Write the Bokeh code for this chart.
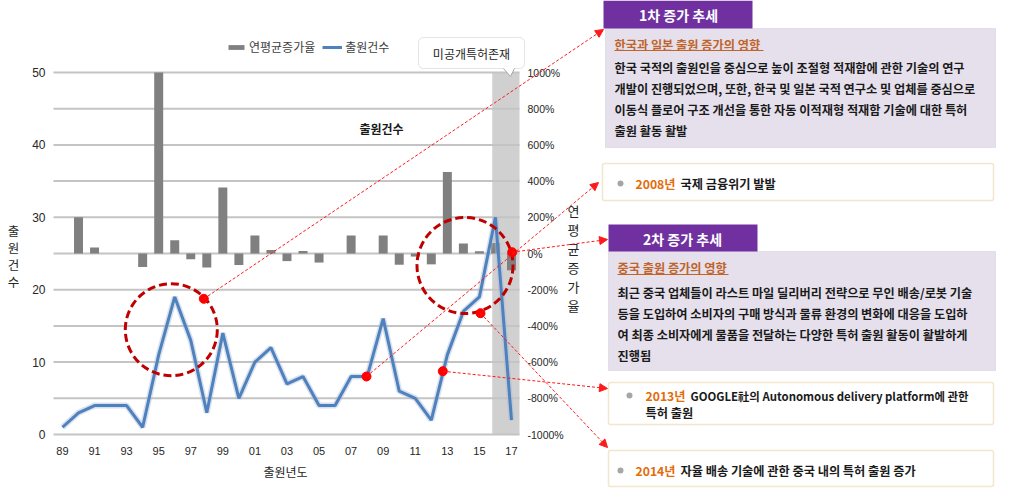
import numpy as np
from bokeh.plotting import figure
from bokeh.models import (Range1d, LinearAxis, FixedTicker, BoxAnnotation, Label,
                          Arrow, NormalHead, Legend, LegendItem, PolyAnnotation, ColumnDataSource)
from bokeh.embed import file_html
from bokeh.resources import INLINE

# ---------------- data ----------------
years = list(range(1989, 2018))
counts = [1, 3, 4, 4, 4, 1, 11, 19, 13, 3, 14, 5, 10, 12, 7, 8, 4, 4, 8, 8, 16, 6, 5, 2, 11, 17, 19, 30, 2]
growth = [np.nan, 200, 33, 0, 0, -75, 1000, 73, -32, -77, 365, -64, 100, 20, -42, 14, -50, 0, 100, 0,
          100, -62, -17, -60, 450, 55, 12, 58, -93]
x_ticks = [1989, 1991, 1993, 1995, 1997, 1999, 2001, 2003, 2005, 2007, 2009, 2011, 2013, 2015, 2017]
x_tick_labels = ["89", "91", "93", "95", "97", "99", "01", "03", "05", "07", "09", "11", "13", "15", "17"]
left_ticks = [0, 10, 20, 30, 40, 50]
grid_ticks = [0, 5, 10, 15, 20, 25, 30, 35, 40, 45, 50]
right_ticks = [-1000, -800, -600, -400, -200, 0, 200, 400, 600, 800, 1000]
unpublished_from = 2015.8

# ---------------- layout constants (canvas pixels) ----------------
W, H = 1016, 488
L, R, T, B = 53, 519, 72, 434          # chart area inside the canvas
X0, X1 = 1988.44, 2017.5               # years at chart left / right edge
KR = "Noto Sans CJK KR"
NUM = "Liberation Sans"
BODY = "12.2px"


def fx(px):
    return px


def fy(py):
    return H - py


def dx(px):
    return X0 + (px - L) / (R - L) * (X1 - X0)


def dy(py):
    return (B - py) / (B - T) * 50


def dpct(py):
    return (dy(py) - 25) * 40


p = figure(width=W, height=H, x_range=Range1d(dx(0), dx(W)), y_range=Range1d(dy(H), dy(0)),
           min_border=0, output_backend="svg", toolbar_location=None, outline_line_color=None,
           background_fill_color="white", border_fill_color="white")
p.extra_y_ranges = {"pct": Range1d(dpct(H), dpct(0))}

# axes drawn at the chart-area edges
p.xaxis.ticker = FixedTicker(ticks=x_ticks)
p.xaxis.major_label_overrides = {t: s for t, s in zip(x_ticks, x_tick_labels)}
p.xaxis.fixed_location = 0
p.yaxis.ticker = FixedTicker(ticks=left_ticks)
p.yaxis.fixed_location = X0

rax = LinearAxis(y_range_name="pct", ticker=FixedTicker(ticks=right_ticks),
                 major_label_overrides={t: f"{t}%" for t in right_ticks}, fixed_location=X1)
p.add_layout(rax, "right")

for ax in (p.xaxis[0], p.yaxis[0], rax):
    ax.axis_line_color = None
    ax.major_tick_line_color = None
    ax.minor_tick_line_color = None
    ax.major_tick_out = 0
    ax.major_tick_in = 0
    ax.minor_tick_out = 0
    ax.minor_tick_in = 0
    ax.major_label_text_color = "#262626"
    ax.major_label_text_font = NUM
p.xaxis.major_label_text_font_size = "11px"
p.xaxis.major_label_standoff = 12
p.yaxis.major_label_text_font_size = "12px"
p.yaxis.major_label_standoff = 8
rax.major_label_text_font_size = "10.5px"
rax.major_label_standoff = 8

p.grid.visible = False

# shaded "unpublished" region
shade = BoxAnnotation(left=unpublished_from, right=X1, bottom=0, top=50, fill_color="#d0d0d0",
                      fill_alpha=1, line_color=None, level="image")
p.add_layout(shade)

# horizontal grid lines across the chart area
p.segment(x0=X0, x1=X1, y0=grid_ticks, y1=grid_ticks, line_color="#c4c4c4", line_width=2)

src = ColumnDataSource(dict(year=years, count=counts, growth=growth))
bars = p.vbar(x="year", top="growth", bottom=0, width=0.56, y_range_name="pct",
              fill_color="#808080", line_color=None, source=src)
p.line(x="year", y="count", line_color="#a7bad6", line_width=6, line_alpha=0.45, source=src)
line = p.line(x="year", y="count", line_color="#4f81bd", line_width=3, source=src)

# legend
legend = Legend(items=[LegendItem(label="연평균증가율", renderers=[bars]),
                       LegendItem(label="출원건수", renderers=[line])],
                orientation="horizontal", location=(fx(226), fy(55)),
                background_fill_alpha=0, border_line_color=None, padding=0, margin=0,
                spacing=7, glyph_width=20, glyph_height=6, label_standoff=3,
                label_height=14, label_text_font=KR, label_text_font_size="12px",
                label_text_color="#404040")
p.add_layout(legend, "center")

# red dashed circles and red dots
p.scatter(x=[dx(170.8), dx(464.5)], y=[dy(329.2), dy(265)], size=[92, 96], marker="circle",
          fill_color=None, line_color="#c00000", line_width=3, line_dash="8 4")
dots_px = [(203.3, 298.3), (366, 376), (442.3, 370.7), (480, 312.7), (511.7, 251.7)]
p.scatter(x=[dx(a) for a, b in dots_px], y=[dy(b) for a, b in dots_px], size=9,
          marker="circle", fill_color="#ff0000", line_color="#ff0000")


def label(x, y, text, size=BODY, color="#1a1a1a", bold=True, align="left", font=KR):
    p.add_layout(Label(x=fx(x), y=fy(y), x_units="screen", y_units="screen", text=text,
                       text_font=font, text_font_size=size, text_color=color,
                       text_font_style="bold" if bold else "normal",
                       text_align=align, text_baseline="middle"))


def box(x0, y0, x1, y1, fill, line=None, lw=1, radius=0):
    p.add_layout(BoxAnnotation(left=fx(x0), right=fx(x1), top=fy(y0), bottom=fy(y1),
                               left_units="screen", right_units="screen",
                               top_units="screen", bottom_units="screen",
                               fill_color=fill, fill_alpha=1, line_color=line, line_width=lw,
                               border_radius=radius, level="annotation"))


def seg(x0, y0, x1, y1, color, lw=1, dash="solid", head=False):
    p.add_layout(Arrow(x_start=fx(x0), y_start=fy(y0), x_end=fx(x1), y_end=fy(y1),
                       start_units="screen", end_units="screen",
                       line_color=color, line_width=lw, line_dash=dash,
                       end=NormalHead(size=8, fill_color=color, line_color=color) if head else None,
                       level="annotation"))


# axis titles (stacked characters)
for i, ch in enumerate("출원건수"):
    label(13, 230 + i * 17, ch, size="12.5px", color="#262626", bold=False, align="center")
for i, ch in enumerate("연평균증가율"):
    label(573, 210 + i * 19, ch, size="13px", color="#262626", bold=False, align="center")
label(285, 471, "출원년도", size="12px", color="#262626", bold=False, align="center")
label(381, 128, "출원건수", size="12px", color="#1a1a1a", bold=True, align="center")

# callout "미공개특허존재"
box(418, 37, 524, 68, "white", "#a6a6a6", 1, 5)
p.add_layout(PolyAnnotation(xs=[fx(503), fx(514), fx(510)], ys=[fy(67.5), fy(67.5), fy(76)],
                            xs_units="screen", ys_units="screen", fill_color="white",
                            fill_alpha=1, line_color=None, level="annotation"))
seg(503, 68, 510, 76, "#a6a6a6")
seg(514, 68, 510, 76, "#a6a6a6")
label(471, 53, "미공개특허존재", size="12px", color="#262626", bold=False, align="center")

# red dashed connector arrows
ARROW = "#ff1a1a"
seg(203.3, 298.3, 603, 29, ARROW, 1, "3 2", True)
seg(366, 376, 598, 182, ARROW, 1, "3 2", True)
seg(511.7, 251.7, 607, 239, ARROW, 1, "3 2", True)
seg(442.3, 370.7, 607, 388, ARROW, 1, "3 2", True)
seg(480, 312.7, 607, 447, ARROW, 1, "3 2", True)

# annotation panel 1
PURPLE = "#7030a0"
LAV = "#e5e0ec"
LAVB = "#bdb6cc"
TITLE = "#c0642a"
YEAR = "#e46c0a"
GOLD = "#d6ad5c"
box(605, 28, 995, 147, LAV, LAVB, 1)
box(603, 0, 752, 28, PURPLE)
label(678, 14.5, "1차 증가 추세", size="14px", color="white", bold=True, align="center")
label(614, 44.5, "한국과 일본 출원 증가의 영향", color=TITLE)
box(614, 49.5, 763, 50.5, TITLE)
label(614, 67, "한국 국적의 출원인을 중심으로 높이 조절형 적재함에 관한 기술의 연구")
label(614, 88, "개발이 진행되었으며, 또한, 한국 및 일본 국적 연구소 및 업체를 중심으로")
label(614, 109, "이동식 플로어 구조 개선을 통한 자동 이적재형 적재함 기술에 대한 특허")
label(614, 130, "출원 활동 활발")

# 2008 box
box(602, 163, 993, 200, "white", GOLD, 1.5, 2)
box(617, 180, 623, 186, "#a6a6a6", None, 1, 3)
label(635, 183, "2008년", color=YEAR)
label(680, 183, "국제 금융위기 발발")

# annotation panel 2
box(608, 251, 995, 370, LAV, LAVB, 1)
box(608, 224, 757, 251, PURPLE)
label(682, 238, "2차 증가 추세", size="14px", color="white", bold=True, align="center")
label(617, 267.5, "중국 출원 증가의 영향", color=TITLE)
box(617, 273.5, 728, 274.5, TITLE)
label(617, 292, "최근 중국 업체들이 라스트 마일 딜리버리 전략으로 무인 배송/로봇 기술")
label(617, 313, "등을 도입하여 소비자의 구매 방식과 물류 환경의 변화에 대응을 도입하")
label(617, 334, "여 최종 소비자에게 물품을 전달하는 다양한 특허 출원 활동이 활발하게")
label(617, 355, "진행됨")

# 2013 box
box(608, 382, 993, 424, "white", GOLD, 1.5, 2)
box(626, 392, 632, 398, "#a6a6a6", None, 1, 3)
label(645, 395, "2013년", color=YEAR)
label(690, 395, "GOOGLE社의 Autonomous delivery platform에 관한", size="11.4px")
label(645, 412, "특허 출원")

# 2014 box
box(608, 450, 993, 486, "white", GOLD, 1.5, 2)
box(617, 467, 623, 473, "#a6a6a6", None, 1, 3)
label(635, 470, "2014년", color=YEAR)
label(680, 470, "자율 배송 기술에 관한 중국 내의 특허 출원 증가")

open("out.html", "w").write(file_html(p, INLINE))
